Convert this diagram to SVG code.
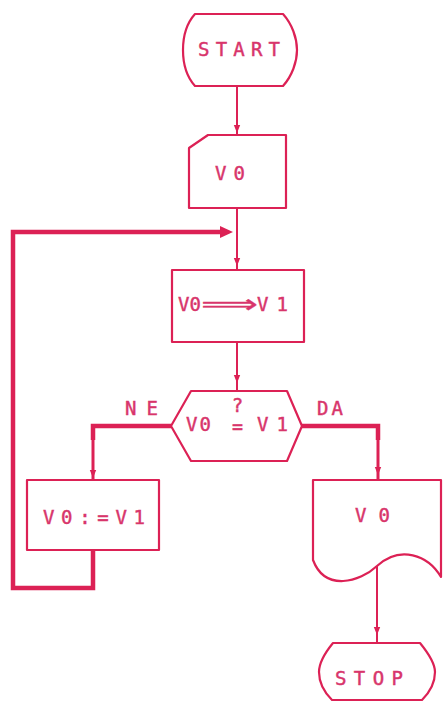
<svg xmlns="http://www.w3.org/2000/svg" width="443" height="711" viewBox="0 0 443 711">
  <style>
    .shape { fill: none; stroke: #dc2155; stroke-width: 2.2; stroke-linejoin: round; }
    .line { fill: none; stroke: #dc2155; stroke-width: 2; }
    .thick { fill: none; stroke: #dc2155; stroke-width: 4.5; stroke-linejoin: miter; }
    .head { fill: #dc2155; }
    .lbl { font-family: "DejaVu Sans Mono", "Liberation Mono", monospace; font-size: 19px; fill: #d8356b; stroke: #d8356b; stroke-width: 0.45; }
    .sym { font-family: "DejaVu Sans", "Noto Sans", sans-serif; fill: #d8356b; stroke: #d8356b; stroke-width: 0.35; }
  </style>
  <defs>
    <path id="ah" d="M0,0 L-3.2,-8 L3.2,-8 Z"/>
  </defs>
  <rect width="443" height="711" fill="#ffffff"/>

  <!-- connectors -->
  <g id="connectors">
    <line class="line" x1="237" y1="86" x2="237" y2="135"/>
    <use href="#ah" class="head" x="237" y="133"/>
    <line class="line" x1="237" y1="208" x2="237" y2="270"/>
    <use href="#ah" class="head" x="237" y="266"/>
    <line class="line" x1="237" y1="342" x2="237" y2="391"/>
    <use href="#ah" class="head" x="237" y="383"/>
    <!-- NE branch -->
    <polyline class="thick" points="171,426 93,426 93,440"/>
    <line class="line" x1="93" y1="438" x2="93" y2="480" style="stroke-width:3"/>
    <use href="#ah" class="head" x="93" y="478"/>
    <!-- DA branch -->
    <polyline class="thick" points="302,426 378,426 378,440"/>
    <line class="line" x1="378" y1="438" x2="378" y2="480" style="stroke-width:3"/>
    <use href="#ah" class="head" x="378" y="475"/>
    <!-- loop back -->
    <polyline class="thick" points="93,550 93,588 13,588 13,232 222,232"/>
    <path class="head" d="M233,232 L220,226 L220,238 Z"/>
    <!-- to STOP -->
    <line class="line" x1="377" y1="566" x2="377" y2="643"/>
    <use href="#ah" class="head" x="377" y="635"/>
  </g>

  <g id="start">
    <path class="shape" d="M195,14 H283 C292,24 297,38 297,50 C297,62 292,76 283,86 H195 C186,76 183,62 183,50 C183,38 186,24 195,14 Z"/>
    <text class="lbl" x="239" y="56" text-anchor="middle" textLength="82" lengthAdjust="spacing">START</text>
  </g>

  <g id="input">
    <path class="shape" d="M208,135 H286 V208 H189 V148 Z"/>
    <text class="lbl" x="230" y="180" text-anchor="middle" textLength="30" lengthAdjust="spacing">V0</text>
  </g>

  <g id="assign">
    <rect class="shape" x="172" y="270" width="132" height="72"/>
    <text class="lbl" x="178" y="311" textLength="23" lengthAdjust="spacing">V0</text>
    <text class="sym" x="201" y="313" font-size="26" textLength="57" lengthAdjust="spacingAndGlyphs">⟹</text>
    <text class="lbl" x="257" y="311" textLength="31" lengthAdjust="spacing">V1</text>
  </g>

  <g id="decision">
    <polygon class="shape" points="191,391 287,391 302,426 287,461 191,461 171,426"/>
    <text class="lbl" x="186" y="431" textLength="25" lengthAdjust="spacing">V0</text>
    <text class="lbl" x="237.5" y="412" font-size="16" text-anchor="middle">?</text>
    <text class="lbl" x="232" y="433" font-size="14" textLength="11" lengthAdjust="spacingAndGlyphs">=</text>
    <text class="lbl" x="257" y="431" textLength="31" lengthAdjust="spacing">V1</text>
    <text class="lbl" x="141.5" y="415" text-anchor="middle" textLength="33" lengthAdjust="spacing">NE</text>
    <text class="lbl" x="330" y="415" text-anchor="middle" textLength="26" lengthAdjust="spacing">DA</text>
  </g>

  <g id="update">
    <rect class="shape" x="27" y="480" width="132" height="70"/>
    <text class="lbl" x="94" y="524" text-anchor="middle" textLength="102" lengthAdjust="spacing">V0:=V1</text>
  </g>

  <g id="output">
    <path class="shape" d="M313,480 H441 V577 C428,555 400,545 377,566 C360,582 325,592 313,560 Z"/>
    <text class="lbl" x="372.5" y="522" text-anchor="middle" textLength="35" lengthAdjust="spacing">V0</text>
  </g>

  <g id="stop">
    <path class="shape" d="M333,643 H420 C429,654 435,664 435,672 C435,682 430,692 422,700 H332 C324,692 319,682 319,672 C319,664 324,654 333,643 Z"/>
    <text class="lbl" x="369" y="685" text-anchor="middle" textLength="68" lengthAdjust="spacing">STOP</text>
  </g>
</svg>
